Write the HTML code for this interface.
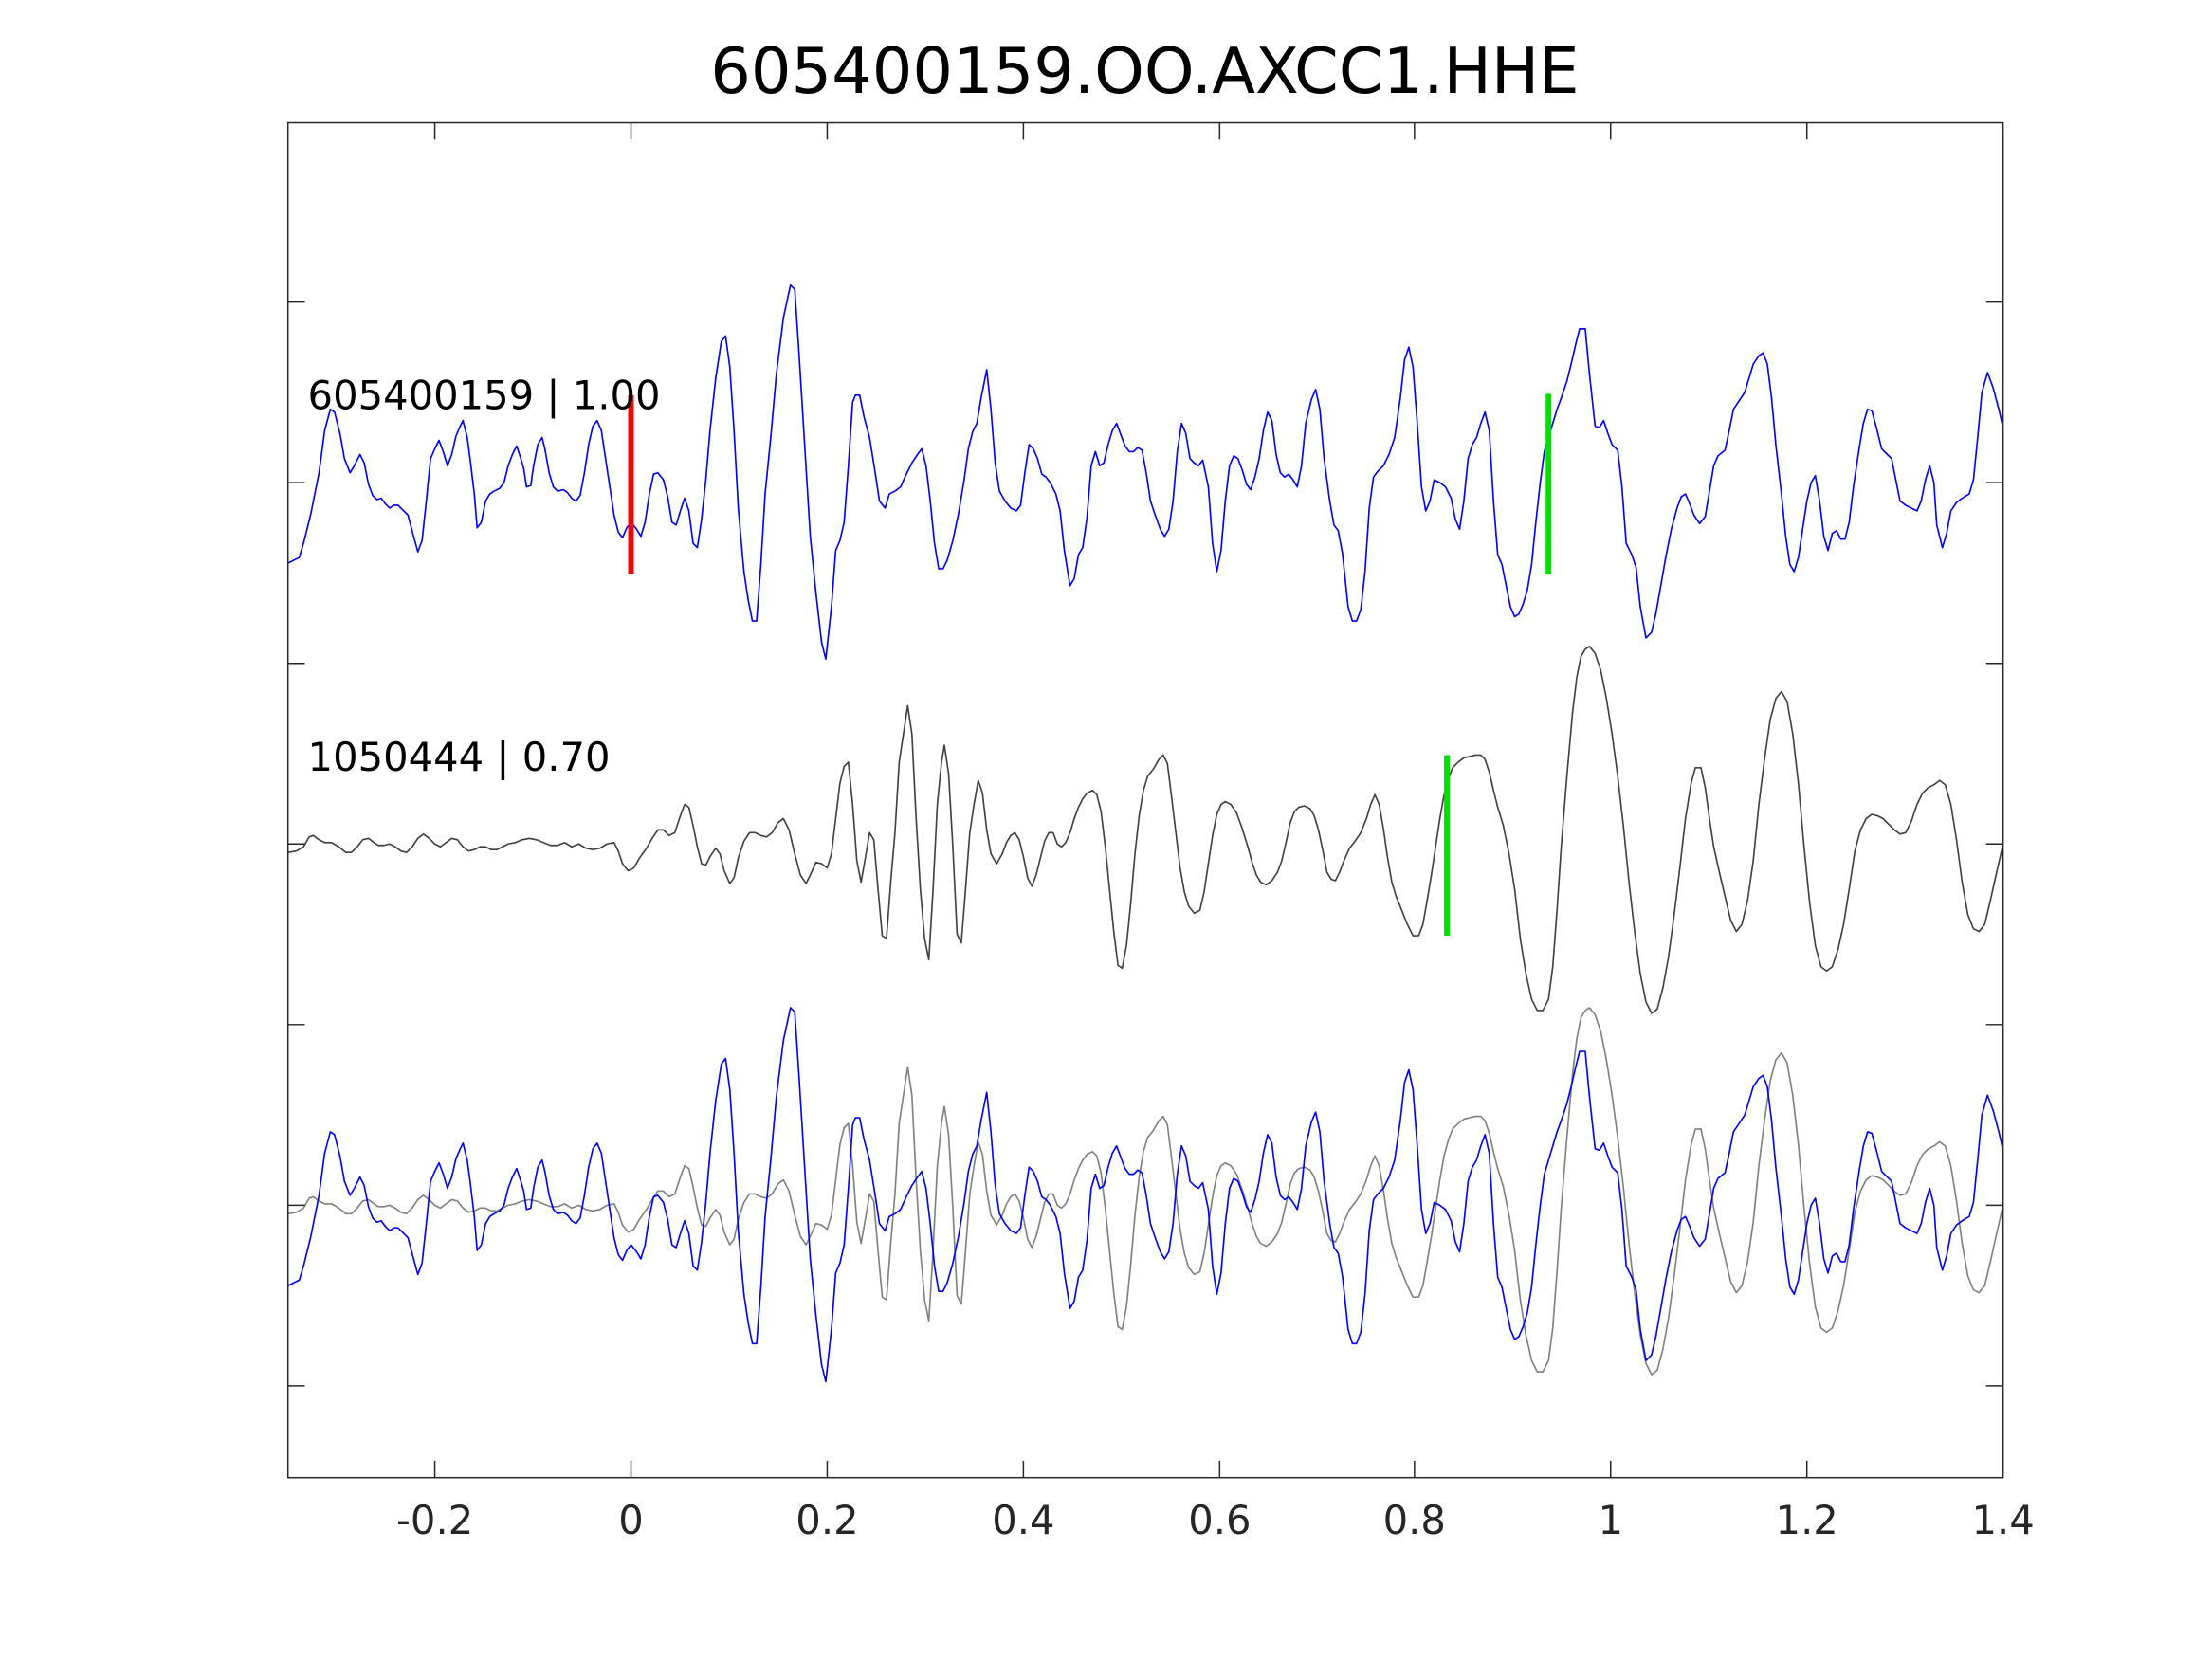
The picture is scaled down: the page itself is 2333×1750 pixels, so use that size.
<!DOCTYPE html>
<html><head><meta charset="utf-8"><style>
html,body{margin:0;padding:0;background:#fff;}
svg{display:block;}
text{font-family:"DejaVu Sans","Liberation Sans",sans-serif;fill:#262626;}
</style></head><body>
<svg width="2333" height="1750" viewBox="0 0 1567 1175.5" preserveAspectRatio="none" xmlns="http://www.w3.org/2000/svg">
<rect width="1567" height="1176" fill="#fff"/>
<text x="811" y="66" font-size="45" text-anchor="middle" style="fill:#000">605400159.OO.AXCC1.HHE</text>
<defs>
<polyline id="b" fill="none" stroke="#0000ff" stroke-width="1.1" stroke-linejoin="round" points="204,399 212,395 215,385 220,365 226,335 230,305 234,290 237,292 241,308 244,325 248,335 251,330 255,322 258,328 261,343 264,351 267,354 270,353 273,357 276,360 279,358 282,358 285,361 289,365 293,380 296,391 299,383 302,355 305,325 308,318 311,312 314,320 317,330 320,322 323,309 326,302 328,298 331,310 333,325 336,350 338,374 341,370 344,355 347,350 350,348 354,346 357,342 360,330 363,322 366,316 369,325 371,332 373,345 376,344 378,330 381,315 384,310 386,318 389,335 392,345 395,348 399,347 402,349 405,353 408,355 411,351 414,335 417,315 420,302 423,298 426,305 429,325 432,345 435,365 438,377 441,381 444,374 447,370 451,375 454,380 457,370 460,350 463,336 466,335 470,340 473,352 476,370 479,372 482,362 485,353 488,362 491,385 494,388 497,368 500,340 503,305 507,268 511,242 514,238 517,260 520,305 523,360 527,405 530,425 533,440 536,440 539,400 542,350 546,310 550,265 555,225 560,202 563,205 566,250 570,315 574,380 578,420 582,455 585,467 589,430 592,390 595,383 598,370 601,330 604,285 606,280 609,280 612,295 616,310 620,335 623,355 627,360 630,350 634,348 638,345 642,336 646,328 650,322 653,318 656,330 659,355 662,385 665,403 668,403 671,397 675,383 679,364 683,340 686,318 689,306 692,300 695,282 699,262 702,290 705,328 708,348 712,355 716,360 720,362 723,358 726,335 729,315 732,318 735,325 738,336 741,338 744,342 748,350 751,362 754,390 758,415 761,410 764,393 767,388 770,367 773,330 776,320 779,330 782,328 785,315 788,305 791,300 794,308 797,316 800,320 803,320 806,317 809,319 812,335 815,355 818,364 822,375 825,380 828,375 831,355 834,320 837,300 840,307 843,325 846,328 849,330 852,326 856,345 859,385 862,405 865,390 868,355 871,330 874,323 877,325 880,333 883,343 886,347 889,338 892,325 895,305 898,292 901,298 904,322 907,335 910,338 913,336 916,340 919,345 922,330 925,300 929,283 932,276 935,290 938,325 942,355 945,372 948,376 951,392 955,430 958,440 961,440 964,432 967,405 970,360 973,338 976,334 980,330 984,322 988,310 992,282 995,255 998,246 1001,260 1004,300 1007,345 1010,362 1013,355 1016,340 1020,342 1024,345 1028,353 1031,368 1034,375 1037,355 1040,325 1043,315 1046,310 1049,300 1052,292 1055,305 1058,355 1061,393 1064,400 1067,415 1070,430 1073,437 1076,435 1079,428 1082,418 1085,400 1088,370 1091,343 1094,320 1097,310 1100,300 1103,290 1106,282 1110,270 1113,258 1116,245 1119,233 1123,233 1126,265 1130,302 1133,303 1136,298 1139,307 1142,315 1146,319 1149,345 1152,385 1156,393 1159,402 1162,430 1166,452 1170,448 1173,435 1176,418 1180,395 1184,375 1188,360 1191,352 1194,350 1197,357 1200,365 1204,371 1208,366 1211,348 1214,330 1217,323 1222,319 1225,305 1228,290 1232,284 1236,278 1239,268 1242,258 1246,252 1249,250 1252,258 1255,282 1258,315 1262,350 1265,380 1268,400 1271,405 1274,395 1277,375 1280,355 1283,342 1286,337 1289,355 1292,380 1295,390 1298,378 1301,376 1304,382 1307,382 1310,370 1313,345 1317,318 1320,300 1323,290 1326,291 1329,302 1333,318 1337,322 1340,325 1343,340 1346,355 1350,358 1354,360 1358,362 1361,355 1364,340 1367,330 1370,342 1372,372 1376,388 1379,378 1382,362 1386,356 1390,353 1395,350 1398,340 1401,310 1404,278 1408,264 1412,275 1416,290 1419,303"/>
<polyline id="g" fill="none" stroke-width="1.1" stroke-linejoin="round" points="204,604 210,603 215,600 219,593 222,592 226,595 230,597 235,597 240,600 245,604 249,604 253,600 257,595 261,594 265,597 268,599 272,599 276,598 280,600 284,603 288,604 292,600 296,594 300,591 304,594 308,598 312,600 316,597 320,594 324,595 328,600 332,603 336,602 340,600 344,600 348,602 352,602 356,600 360,598 365,597 370,595 375,594 380,595 385,597 390,599 395,599 400,597 405,600 410,598 415,601 420,602 425,601 430,598 435,597 438,603 441,612 445,617 449,615 453,608 458,601 462,594 466,588 470,588 474,592 478,590 482,578 485,570 488,572 491,585 494,600 497,612 500,613 503,607 507,601 510,605 513,617 517,626 520,622 523,608 527,596 531,590 535,590 539,592 543,593 547,590 551,583 555,580 559,588 563,605 567,620 571,626 574,620 578,611 582,612 586,615 589,605 592,580 595,555 598,543 601,540 604,570 607,610 610,625 613,608 616,590 619,595 622,630 625,663 628,665 631,625 634,590 637,540 640,520 643,500 646,520 649,580 652,630 655,665 658,680 661,630 664,570 667,540 669,528 672,548 675,600 678,662 681,668 684,630 687,590 690,570 693,553 696,562 699,588 702,605 706,612 710,605 713,597 716,592 719,590 722,595 725,607 728,622 731,628 734,620 737,608 740,596 743,590 746,590 749,598 752,600 755,597 758,590 761,580 764,572 767,566 770,562 774,560 777,563 780,575 783,600 786,630 789,660 792,684 795,686 798,670 801,640 804,605 807,578 810,560 813,550 817,545 821,538 824,535 827,541 830,565 833,590 836,615 839,632 842,642 846,647 850,645 853,632 856,612 859,592 862,577 865,570 868,568 872,570 876,576 880,587 884,600 887,611 890,620 893,625 897,627 901,624 905,618 908,610 911,597 914,583 917,575 920,572 924,571 928,573 931,578 934,588 937,602 940,618 943,623 946,624 949,618 952,610 956,601 960,596 964,590 968,580 971,570 974,563 977,570 980,587 983,608 986,625 989,635 993,645 997,655 1001,663 1005,663 1008,655 1011,638 1014,620 1017,600 1020,580 1023,563 1026,552 1029,544 1033,540 1037,537 1041,536 1045,535 1049,535 1052,538 1055,547 1058,560 1061,572 1065,585 1069,605 1073,630 1077,665 1081,690 1085,708 1089,716 1093,716 1097,708 1100,685 1103,645 1106,600 1110,550 1114,505 1117,480 1120,465 1123,460 1126,458 1130,463 1134,475 1138,495 1142,520 1146,550 1150,585 1154,625 1158,660 1162,690 1166,710 1170,718 1174,715 1178,700 1182,678 1186,648 1190,615 1194,580 1198,555 1201,544 1205,544 1208,558 1211,580 1214,600 1218,618 1222,635 1226,652 1230,660 1234,655 1238,638 1242,610 1246,570 1250,538 1254,510 1258,495 1262,490 1266,497 1270,520 1274,555 1278,600 1282,640 1286,670 1290,685 1294,688 1298,685 1302,673 1306,655 1310,630 1314,603 1318,588 1322,580 1326,577 1330,578 1334,580 1338,584 1342,588 1346,591 1350,590 1354,582 1358,570 1362,562 1366,558 1370,556 1374,553 1378,556 1382,570 1386,595 1390,625 1394,648 1398,658 1402,660 1406,655 1410,638 1414,620 1419,598"/>
<clipPath id="c"><rect x="204" y="87" width="1215" height="960"/></clipPath>
</defs>
<g clip-path="url(#c)">
<use href="#b"/>
<use href="#g" stroke="#404040"/>
<use href="#g" stroke="#808080" transform="translate(0,256)"/>
<use href="#b" transform="translate(0,512)"/>
</g>
<line x1="447" y1="280" x2="447" y2="407" stroke="#ff0000" stroke-width="4"/>
<line x1="1097" y1="279" x2="1097" y2="407" stroke="#00e000" stroke-width="4"/>
<line x1="1025" y1="535" x2="1025" y2="663" stroke="#00e000" stroke-width="4"/>
<text x="218" y="290" font-size="28" style="fill:#000">605400159 | 1.00</text>
<text x="218" y="546" font-size="28" style="fill:#000">1050444 | 0.70</text>
<rect x="204" y="87" width="1215" height="960" fill="none" stroke="#262626" stroke-width="1"/>
<g stroke="#262626" stroke-width="1">
<path d="M308,87v12M447,87v12M586,87v12M725,87v12M864,87v12M1002,87v12M1141,87v12M1280,87v12"/>
<path d="M308,1047v-12M447,1047v-12M586,1047v-12M725,1047v-12M864,1047v-12M1002,1047v-12M1141,1047v-12M1280,1047v-12"/>
<path d="M204,214h12M204,342h12M204,470h12M204,598h12M204,726h12M204,854h12M204,982h12"/>
<path d="M1419,214h-12M1419,342h-12M1419,470h-12M1419,598h-12M1419,726h-12M1419,854h-12M1419,982h-12"/>
</g>
<g font-size="28" text-anchor="middle">
<text x="308" y="1087">-0.2</text>
<text x="447" y="1087">0</text>
<text x="586" y="1087">0.2</text>
<text x="725" y="1087">0.4</text>
<text x="864" y="1087">0.6</text>
<text x="1002" y="1087">0.8</text>
<text x="1141" y="1087">1</text>
<text x="1280" y="1087">1.2</text>
<text x="1419" y="1087">1.4</text>
</g>
</svg>
</body></html>
